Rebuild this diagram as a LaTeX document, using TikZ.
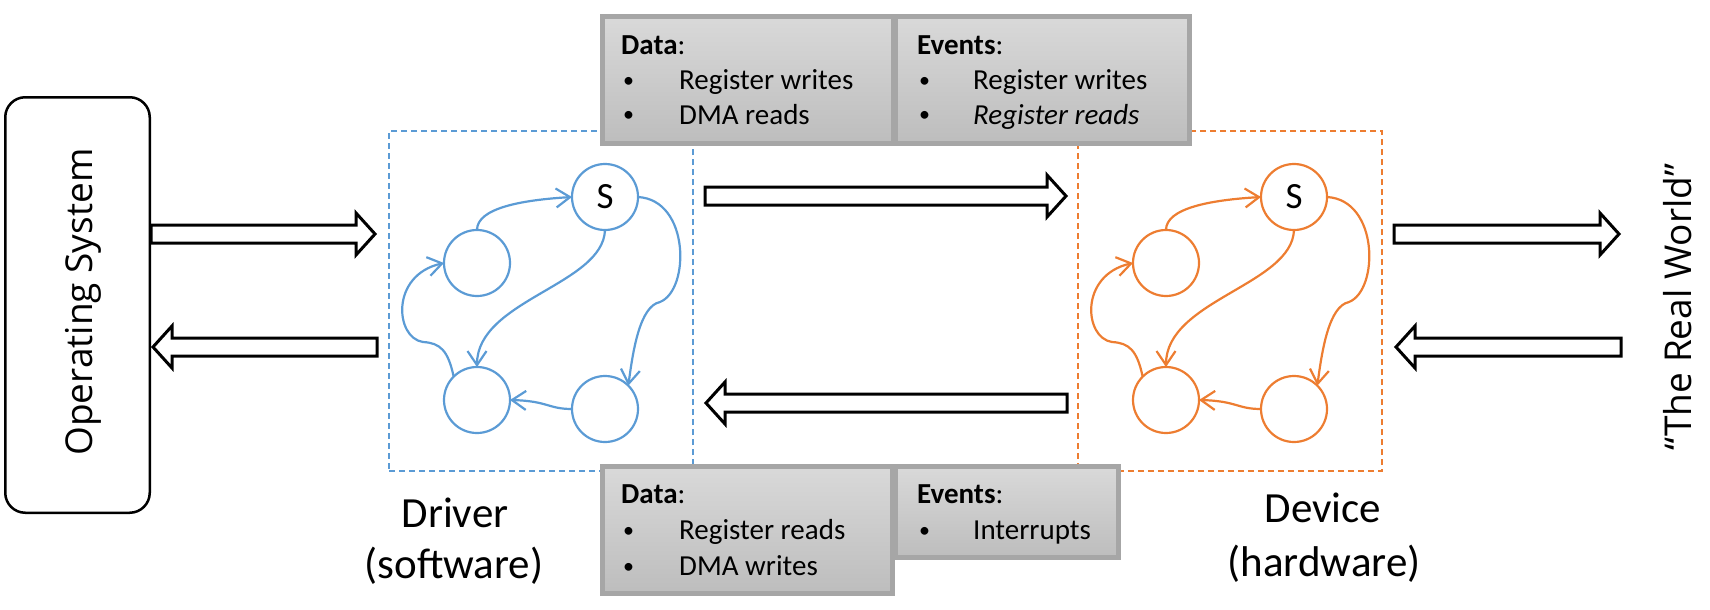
\documentclass[tikz,border=0pt]{standalone}
\usepackage{fontspec}
\setmainfont{Carlito}
\newfontfamily\osfont{Open Sans}
\usetikzlibrary{arrows.meta,calc}
\definecolor{fsmblue}{HTML}{5B9BD5}
\definecolor{fsmorange}{HTML}{ED7D31}
\definecolor{boxborder}{HTML}{A6A6A6}
\definecolor{boxtop}{HTML}{D9D9D9}
\definecolor{boxbot}{HTML}{BDBDBD}
\newcommand\smallbullet{\raisebox{2pt}{\fontsize{22}{24}\selectfont\textbullet}}
\tikzset{
  stnode/.style={circle, line width=2.2pt, minimum size=66pt, inner sep=0pt, outer sep=0pt,
    font=\fontsize{37}{40}\selectfont},
  fsmedge/.style={line width=2.2pt, -{Straight Barb[length=14pt,width=19pt,line width=2.2pt]}},
  frame/.style={dash pattern=on 6pt off 4pt, line width=2pt, anchor=north west,
    inner sep=0pt, outer sep=0pt},
  graybox/.style={draw=boxborder, line width=5pt, top color=boxtop, bottom color=boxbot,
    anchor=north west, inner sep=0pt, outer sep=0pt},
  boxtext/.style={anchor=base west, inner sep=0pt, font=\fontsize{29}{35}\selectfont},
  lbl/.style={anchor=base, inner sep=0pt, font=\fontsize{43}{52}\selectfont},
  sidetext/.style={rotate=90, anchor=base, inner sep=0pt, font=\osfont\fontsize{37}{44}\selectfont},
  blockarrow/.style={draw=black, fill=white, line width=3pt, line join=miter},
}
\newcommand\drawfsm[2]{%
  \node[stnode, draw=#2] (#1S) at (605,197) {S};
  \node[stnode, draw=#2] (#1L) at (477,263) {};
  \node[stnode, draw=#2] (#1BL) at (477,400) {};
  \node[stnode, draw=#2] (#1BR) at (605,409) {};
  \draw[fsmedge, draw=#2] (#1L.north) .. controls +(0,-22) and +(-50,3) .. (#1S.west);
  \draw[fsmedge, draw=#2] (#1S.south) .. controls (603,285) and (477,300) .. (#1BL.north);
  \draw[fsmedge, draw=#2] (#1S.east) .. controls (690,200) and (690,290) .. (660,302)
       .. controls (640,306) and (633,350) .. (#1BR.45);
  \draw[fsmedge, draw=#2] (#1BR.west) .. controls (548,409) and (548,401) .. (#1BL.east);
  \draw[fsmedge, draw=#2] (#1BL.135) .. controls (448,350) and (440,343) .. (423,342)
       .. controls (395,338) and (390,275) .. (#1L.west);
}
\newcommand\rblock[2]{%
  \draw[blockarrow] ($(#1)+(0,-9)$) -- ($(#2)+(-19,-9)$) -- ($(#2)+(-19,-21)$) -- (#2)
    -- ($(#2)+(-19,21)$) -- ($(#2)+(-19,9)$) -- ($(#1)+(0,9)$) -- cycle;}
\newcommand\lblock[2]{%
  \draw[blockarrow] ($(#1)+(0,-9)$) -- ($(#2)+(19,-9)$) -- ($(#2)+(19,-21)$) -- (#2)
    -- ($(#2)+(19,21)$) -- ($(#2)+(19,9)$) -- ($(#1)+(0,9)$) -- cycle;}
\begin{document}
\begin{tikzpicture}[x=1pt,y=-1pt]
\useasboundingbox (0,0) rectangle (1710,610);

% operating system
\node[draw, line width=2.5pt, rounded corners=20pt, minimum width=144.5pt, minimum height=415.5pt,
  inner sep=0pt, outer sep=0pt] (os) at (77.5,305) {};
\node[sidetext] (ostext) at (92,302) {Operating System};
\node[sidetext] (world) at (1691,307) {“The Real World”};

% dashed frames
\node[frame, draw=fsmblue, minimum width=304pt, minimum height=340pt] (drvframe) at (389,131) {};
\node[frame, draw=fsmorange, minimum width=304pt, minimum height=340pt] (devframe) at (1078,131) {};

% state machines
\drawfsm{d}{fsmblue}
\begin{scope}[xshift=689pt]
\drawfsm{h}{fsmorange}
\end{scope}

% labels
\node[lbl] (drv1) at (455,527) {Driver};
\node[lbl] (drv2) at (454,578) {(software)};
\node[lbl] (dev1) at (1323,522) {Device};
\node[lbl] (dev2) at (1324,576) {(hardware)};

% gray boxes
\node[graybox, minimum width=291pt, minimum height=127pt] (tdata) at (602.5,16.5) {};
\node[graybox, minimum width=294pt, minimum height=127pt] (tevents) at (895.5,16.5) {};
\node[graybox, minimum width=290pt, minimum height=127pt] (bdata) at (602.5,466.5) {};
\node[graybox, minimum width=223pt, minimum height=91pt] (bevents) at (895.5,466.5) {};

\node[boxtext] (tdh) at (621,55) {\textbf{Data}:};
\node[boxtext] (tdb1) at (623,89) {\smallbullet};
\node[boxtext] (tdt1) at (679,89) {Register writes};
\node[boxtext] (tdb2) at (623,124) {\smallbullet};
\node[boxtext] (tdt2) at (679,124) {DMA reads};

\node[boxtext] (teh) at (917,55) {\textbf{Events}:};
\node[boxtext] (teb1) at (919,89) {\smallbullet};
\node[boxtext] (tet1) at (973,89) {Register writes};
\node[boxtext] (teb2) at (919,124) {\smallbullet};
\node[boxtext] (tet2) at (973,124) {\textit{Register reads}};

\node[boxtext] (bdh) at (621,503) {\textbf{Data}:};
\node[boxtext] (bdb1) at (623,539) {\smallbullet};
\node[boxtext] (bdt1) at (679,539) {Register reads};
\node[boxtext] (bdb2) at (623,575) {\smallbullet};
\node[boxtext] (bdt2) at (679,575) {DMA writes};

\node[boxtext] (beh) at (917,503) {\textbf{Events}:};
\node[boxtext] (beb1) at (919,539) {\smallbullet};
\node[boxtext] (bet1) at (973,539) {Interrupts};

% block arrow end points
\coordinate (a1t) at (151,234);  \coordinate (a1h) at (375,234);
\coordinate (a2t) at (377,347);  \coordinate (a2h) at (153,347);
\coordinate (a3t) at (705,196);  \coordinate (a3h) at (1066,196);
\coordinate (a4t) at (1067,403); \coordinate (a4h) at (706,403);
\coordinate (a5t) at (1394,234); \coordinate (a5h) at (1619,234);
\coordinate (a6t) at (1621,347); \coordinate (a6h) at (1396,347);
\rblock{a1t}{a1h}
\lblock{a2t}{a2h}
\rblock{a3t}{a3h}
\lblock{a4t}{a4h}
\rblock{a5t}{a5h}
\lblock{a6t}{a6h}
\end{tikzpicture}
\end{document}
